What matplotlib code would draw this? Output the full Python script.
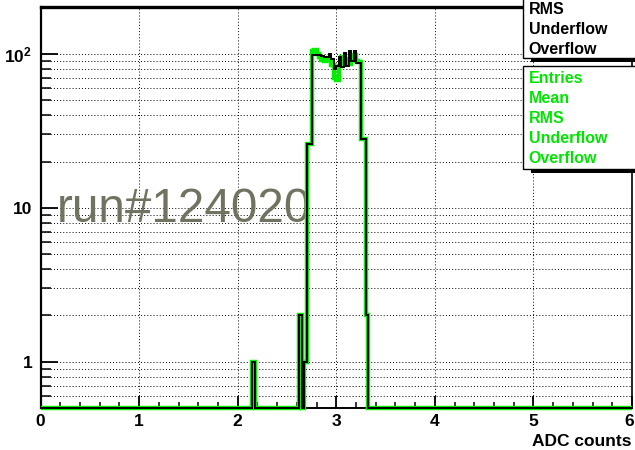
import numpy as np
import matplotlib
matplotlib.use('Agg')
import matplotlib.pyplot as plt
from matplotlib.patches import Rectangle
from matplotlib.ticker import FixedLocator, FixedFormatter, NullFormatter

plt.rcParams['font.family'] = ['Liberation Sans', 'DejaVu Sans']
plt.rcParams['mathtext.fontset'] = 'custom'
plt.rcParams['mathtext.bf'] = 'Liberation Sans:bold'
plt.rcParams['mathtext.rm'] = 'Liberation Sans:bold'

# ---------------- data ----------------
bin_width = 0.025
x_range = (0.0, 6.0)
# left edges of non-empty bins (ADC counts)
bin_left = [2.150, 2.625, 2.675, 2.700, 2.725,
            2.750, 2.775, 2.800, 2.825, 2.850, 2.875, 2.900, 2.925, 2.950, 2.975,
            3.000, 3.025, 3.050, 3.075, 3.100, 3.125, 3.150, 3.175, 3.200, 3.225,
            3.250, 3.275, 3.300]
black_counts = [1, 2, 1, 26, 26,
                99, 99, 98, 98, 97, 96, 96, 100, 93, 80,
                84, 95, 82, 102, 84, 104, 90, 104, 87, 87,
                28, 28, 2]
green_counts = [1, 2, 1, 26, 26,
                104, 106, 100, 96, 92, 90, 94, 92, 85, 70,
                68, 84, 95, 93, 92, 86, 96, 99, 90, 89,
                28, 28, 2]
x_tick_labels = ['0', '1', '2', '3', '4', '5', '6']
y_tick_values = [1, 10, 100]
y_tick_labels = ['1', '10', r'$\mathbf{10^{2}}$']
stats_black = ['RMS', 'Underflow', 'Overflow']
stats_green = ['Entries', 'Mean', 'RMS', 'Underflow', 'Overflow']
run_label = 'run#124020'
x_title = 'ADC counts'

# ---------------- figure ----------------
W, H = 635, 450
fig = plt.figure(figsize=(W / 100, H / 100), dpi=100)
fig.patch.set_facecolor('white')

def fx(px):
    return px / W

def fy(py):
    return 1 - py / H

ax_l, ax_r, ax_t, ax_b = 40.5, 632, 7, 408
ax = fig.add_axes([fx(ax_l), fy(ax_b), fx(ax_r) - fx(ax_l), fy(ax_t) - fy(ax_b)])

y_lo, y_hi = 0.5, 202
ax.set_yscale('log')
ax.set_xlim(*x_range)
ax.set_ylim(y_lo, y_hi)

nbins = int(round((x_range[1] - x_range[0]) / bin_width))
edges = np.linspace(x_range[0], x_range[1], nbins + 1)

def full_hist(lefts, counts):
    vals = np.zeros(nbins)
    for l, c in zip(lefts, counts):
        vals[int(round((l - x_range[0]) / bin_width))] = c
    return np.where(vals > 0, vals, y_lo)

green_vals = full_hist(bin_left, green_counts)
black_vals = full_hist(bin_left, black_counts)

ax.stairs(green_vals, edges, baseline=None, color='#00ee00', lw=3.2,
          zorder=4, clip_on=False)
ax.stairs(black_vals, edges, baseline=None, color='black', lw=1.4,
          zorder=5, clip_on=False)

# grid
grid_kw = dict(color='black', lw=0.7, linestyle=(0, (1, 2.2)), zorder=1)
for xv in [1, 2, 3, 4, 5]:
    ax.axvline(xv, **grid_kw)
ygrid = [0.6, 0.7, 0.8, 0.9] + [d * m for d in (1, 10, 100) for m in range(1, 10)]
for yv in ygrid:
    if y_lo < yv < y_hi:
        ax.axhline(yv, **grid_kw)

# ticks
ax.xaxis.set_major_locator(FixedLocator(range(7)))
ax.xaxis.set_major_formatter(FixedFormatter(x_tick_labels))
ax.xaxis.set_minor_locator(FixedLocator(np.arange(0, 6.01, 0.2)))
ax.yaxis.set_major_locator(FixedLocator(y_tick_values))
ax.yaxis.set_major_formatter(FixedFormatter(y_tick_labels))
yminor = [0.6, 0.7, 0.8, 0.9] + [d * m for d in (1, 10) for m in range(2, 10)]
ax.yaxis.set_minor_locator(FixedLocator(yminor))
ax.yaxis.set_minor_formatter(NullFormatter())

ax.tick_params(axis='x', which='major', direction='in', length=8.5, width=1.3,
               pad=4, labelsize=12.5, top=False)
ax.tick_params(axis='x', which='minor', direction='in', length=4.3, width=1.1, top=False)
ax.tick_params(axis='y', which='major', direction='in', length=12.5, width=1.3,
               pad=6, labelsize=12.5, right=False)
ax.tick_params(axis='y', which='minor', direction='in', length=7, width=1.1, right=False)
fig.canvas.draw()
for lab in ax.get_xticklabels() + ax.get_yticklabels():
    lab.set_fontweight('bold')
xl = ax.get_xticklabels()
xl[-1].set_horizontalalignment('right')
xl[-1].set_x(6.0)
import matplotlib.transforms as mtrans
xl[-1].set_transform(xl[-1].get_transform() + mtrans.ScaledTranslation(2 / 100, 0, fig.dpi_scale_trans))

for s, lw in (('left', 1.6), ('bottom', 1.4), ('top', 2.4), ('right', 1.2)):
    ax.spines[s].set_linewidth(lw)
    ax.spines[s].set_color('black')

# run label (below histogram lines)
ax.text((57 - ax_l) / (ax_r - ax_l), (ax_b - 222) / (ax_b - ax_t), run_label,
        transform=ax.transAxes, fontsize=34.3, color='#70735f',
        ha='left', va='baseline', zorder=3)

# axis title
fig.text(fx(631), fy(441), x_title, fontsize=12.5, fontweight='bold',
         ha='right', va='center')

# stats boxes
def stats_box(top, bottom, lines, color, ys):
    shadow = Rectangle((fx(531), fy(bottom + 4.5)), fx(W + 20) - fx(531),
                       fy(top + 4.5) - fy(bottom + 4.5), transform=fig.transFigure,
                       facecolor='black', edgecolor='none', zorder=10)
    fig.add_artist(shadow)
    box = Rectangle((fx(522.5), fy(bottom)), fx(W + 20) - fx(522.5),
                    fy(top) - fy(bottom), transform=fig.transFigure,
                    facecolor='white', edgecolor='black', lw=1.0, zorder=11)
    fig.add_artist(box)
    for t, yy in zip(lines, ys):
        fig.text(fx(528.5), fy(yy), t, fontsize=11.5, fontweight='bold',
                 color=color, ha='left', va='center', zorder=12)

stats_box(-20, 57.5, stats_black, 'black', [9.5, 29.5, 49])
stats_box(66.5, 168.5, stats_green, '#00e600', [78.5, 98.5, 118.5, 138.5, 158.5])

fig.savefig('out.png', dpi=100, facecolor='white')
